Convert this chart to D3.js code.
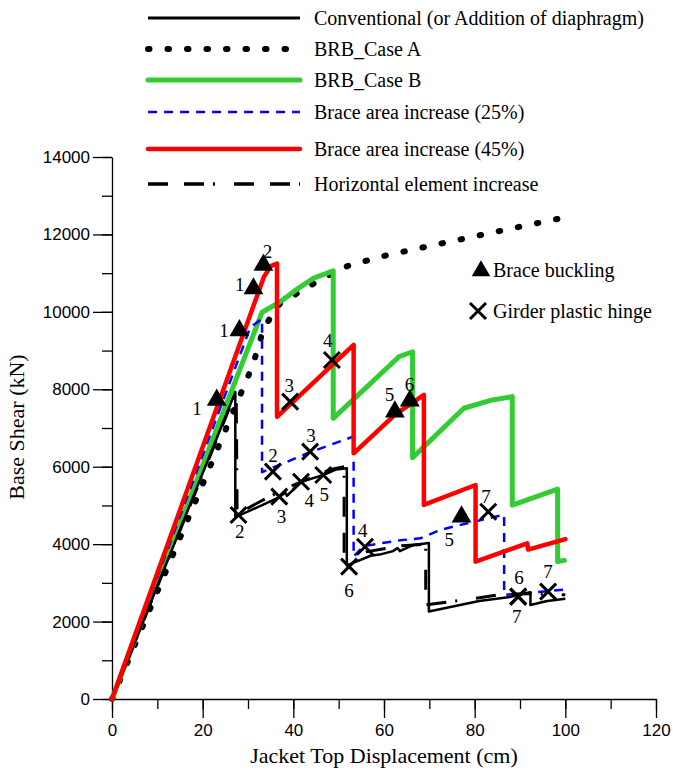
<!DOCTYPE html>
<html>
<head>
<meta charset="utf-8">
<script src="https://cdn.jsdelivr.net/npm/d3@7"></script>
<style>
  html, body { margin: 0; padding: 0; background: #fff; }
  svg { display: block; }
</style>
</head>
<body>
<svg id="chart" width="673" height="770"></svg>
<script>
// ---------------- DATA ----------------
const xTicks = [0, 20, 40, 60, 80, 100, 120];
const yTicks = [0, 2000, 4000, 6000, 8000, 10000, 12000, 14000];

const conventional = [[0,0],[27.2,7930],[27.2,4700],[33,5000],[36.8,5210],[38.2,5330],[38.6,5250],[41.8,5610],[46.7,5790],[49.5,5930],[51.8,5960],[51.8,3450],[55,3600],[57,3700],[59,3730],[62,3820],[63,3900],[63.5,3820],[66.5,3980],[69.9,4030],[69.9,2260],[81,2530],[88,2640],[92.3,2760],[92.3,2430],[96,2530],[100,2590]];
const brbCaseA = [[0,0],[29.4,8160],[30.9,8580],[32.3,9100],[33.4,9576],[37.1,10222],[45.2,10780],[51.5,11167],[59.2,11425],[68,11650],[80,11950],[90,12200],[100,12440]];
const brbCaseB = [[0,0],[33.1,9990],[37.1,10260],[41,10600],[44.5,10870],[48.8,11060],[48.8,7250],[63.3,8840],[66.3,8970],[66.3,6230],[77.6,7510],[83.9,7724],[88.3,7810],[88.3,5010],[98.3,5420],[98.3,3550],[99.8,3580]];
const braceArea25 = [[0,0],[30.5,9600],[33.1,9820],[33.1,5860],[43.8,6380],[53.3,6780],[53.3,3680],[55.5,3950],[59.2,4020],[63.6,4100],[68,4150],[72.5,4370],[78.4,4540],[86.5,4760],[86.5,2690],[93,2750],[100,2830]];
const braceArea45 = [[0,0],[33.5,10900],[35,11180],[36.4,11250],[36.4,7290],[53.3,9145],[53.3,6346],[62.5,7350],[68.8,7853],[68.8,5012],[80.2,5528],[80.2,3547],[91.6,4022],[91.8,3860],[100,4130]];
const horizontalElem = [[0,0],[27.4,7950],[27.6,4780],[33,5120],[38,5420],[44,5720],[48,5920],[51.2,6000],[51.2,3600],[56,3800],[60,3880],[64,3960],[69.2,4000],[69.2,2430],[80,2600],[86.4,2710],[92,2720],[100,2690]];

// markers: [x, y, label, labelX, labelY]
const braceBuckling = [
  [23.1,7724,"1",18.75,7517],
  [28.1,9520,"1",24.7,9533],
  [31.2,10600,"1",28.2,10721],
  [33.4,11212,"2",34.3,11555],
  [62.4,7422,"5",61.2,7879],
  [65.7,7706,"6",65.6,8137],
  [77.1,4709,"5",74.4,4126]
];
const girderHinge = [
  [48.5,8757,"4",47.6,9274],
  [39.3,7680,"3",39.1,8111],
  [35.5,5872,"2",35.5,6303],
  [43.7,6389,"3",43.9,6820],
  [27.9,4753,"2",28.2,4322],
  [36.9,5226,"3",37.4,4709],
  [41.7,5613,"4",43.5,5141],
  [46.6,5787,"5",46.8,5296],
  [55.8,3934,"4",55.3,4366],
  [52.3,3418,"6",52.3,2816],
  [83.0,4838,"7",82.5,5226],
  [89.6,2643,"6",89.8,3144],
  [89.6,2643,"7",89.3,2126],
  [96.2,2772,"7",96.2,3289]
];

const seriesNames = ["Conventional (or Addition of diaphragm)","BRB_Case A","BRB_Case B","Brace area increase (25%)","Brace area increase (45%)","Horizontal element increase"];

// ---------------- LAYOUT ----------------
const svg = d3.select("#chart");
const x = d3.scaleLinear().domain([0,120]).range([112,656]);
const y = d3.scaleLinear().domain([0,14000]).range([699,157]);
const serif = "'Liberation Serif','Times New Roman',serif";
const sans = "'Liberation Sans',Arial,sans-serif";

const styles = [
  {data: conventional, color:"#000", width:2.5, dash:null, cap:"butt"},
  {data: brbCaseA, color:"#000", width:6, dash:"1.5,18", cap:"round"},
  {data: brbCaseB, color:"#33cc33", width:5, dash:null, cap:"round"},
  {data: braceArea25, color:"#0000ff", width:2.5, dash:"9,7", cap:"butt"},
  {data: braceArea45, color:"#ff0000", width:4.5, dash:null, cap:"round"},
  {data: horizontalElem, color:"#000", width:3, dash:"20,16,20,9,2,19", cap:"butt"}
];

// axes
const yMinor = d3.range(0, 14001, 1000);
svg.append("g").attr("transform","translate(112,0)")
  .call(d3.axisLeft(y).tickValues(yMinor).tickSize(10).tickSizeOuter(0).tickFormat(""))
  .call(g => g.selectAll("line,path").attr("stroke","#000").attr("stroke-width",1.3));
svg.append("g").attr("transform","translate(112,0)")
  .call(d3.axisLeft(y).tickValues(yTicks).tickSize(19).tickSizeOuter(0).tickPadding(3).tickFormat(d3.format("d")))
  .call(g => g.select(".domain").remove())
  .call(g => g.selectAll("line").attr("stroke","#000").attr("stroke-width",1.3))
  .call(g => g.selectAll("text").attr("font-family",sans).attr("font-size",17).attr("fill","#000"));

const xMinor = d3.range(0, 121, 10);
svg.append("g").attr("transform","translate(0,699)")
  .call(d3.axisBottom(x).tickValues(xMinor).tickSize(10).tickSizeOuter(0).tickFormat(""))
  .call(g => g.selectAll("line,path").attr("stroke","#000").attr("stroke-width",1.3));
svg.append("g").attr("transform","translate(0,699)")
  .call(d3.axisBottom(x).tickValues(xTicks).tickSize(19).tickSizeOuter(0).tickPadding(6).tickFormat(d3.format("d")))
  .call(g => g.select(".domain").remove())
  .call(g => g.selectAll("line").attr("stroke","#000").attr("stroke-width",1.3))
  .call(g => g.selectAll("text").attr("font-family",sans).attr("font-size",17).attr("fill","#000"));

// axis titles
svg.append("text").attr("x",384).attr("y",763).attr("text-anchor","middle")
  .attr("font-family",serif).attr("font-size",22).text("Jacket Top Displacement (cm)");
svg.append("text").attr("transform","translate(24,427) rotate(-90)").attr("text-anchor","middle")
  .attr("font-family",serif).attr("font-size",22).text("Base Shear (kN)");

// lines
const line = d3.line().x(d => x(d[0])).y(d => y(d[1]));
const drawOrder = [1,2,3,0,5,4];
drawOrder.forEach(i => {
  const s = styles[i];
  svg.append("path").datum(s.data).attr("d",line)
    .attr("fill","none").attr("stroke",s.color).attr("stroke-width",s.width)
    .attr("stroke-dasharray",s.dash).attr("stroke-linecap",s.cap).attr("stroke-linejoin","round");
});

// markers
const tri = d3.symbol().type(d3.symbolTriangle).size(170);
svg.append("g").selectAll("path").data(braceBuckling).join("path")
  .attr("d",tri).attr("transform",d => `translate(${x(d[0])},${y(d[1])})`).attr("fill","#000");
const xg = svg.append("g").selectAll("g").data(girderHinge).join("g")
  .attr("transform",d => `translate(${x(d[0])},${y(d[1])})`);
xg.append("path").attr("d","M-8,-8L8,8M-8,8L8,-8").attr("stroke","#000").attr("stroke-width",3).attr("fill","none");

const allMarkers = braceBuckling.concat(girderHinge);
svg.append("g").selectAll("text").data(allMarkers).join("text")
  .attr("x",d => x(d[3])).attr("y",d => y(d[4])).attr("dy","0.35em")
  .attr("text-anchor","middle").attr("font-family",serif).attr("font-size",19).text(d => d[2]);

// legend
const legRows = [18,49,80,112,149,184];
styles.forEach((s,i) => {
  svg.append("line").attr("x1",148).attr("x2",300).attr("y1",legRows[i]).attr("y2",legRows[i])
    .attr("stroke",s.color).attr("stroke-width", i===0 ? 3 : (i===3 ? 2.5 : (i===5 ? 3.5 : s.width)))
    .attr("stroke-dasharray",s.dash).attr("stroke-linecap",s.cap);
  svg.append("text").attr("x",314).attr("y",legRows[i]).attr("dy","0.35em")
    .attr("font-family",serif).attr("font-size",20).text(seriesNames[i]);
});
svg.append("path").attr("d",d3.symbol().type(d3.symbolTriangle).size(150)).attr("transform","translate(481,271)").attr("fill","#000");
svg.append("text").attr("x",493).attr("y",270).attr("dy","0.35em").attr("font-family",serif).attr("font-size",20).text("Brace buckling");
svg.append("path").attr("d","M-8,-8L8,8M-8,8L8,-8").attr("transform","translate(478,311)").attr("stroke","#000").attr("stroke-width",3).attr("fill","none");
svg.append("text").attr("x",493).attr("y",311).attr("dy","0.35em").attr("font-family",serif).attr("font-size",20).text("Girder plastic hinge");
</script>
</body>
</html>
